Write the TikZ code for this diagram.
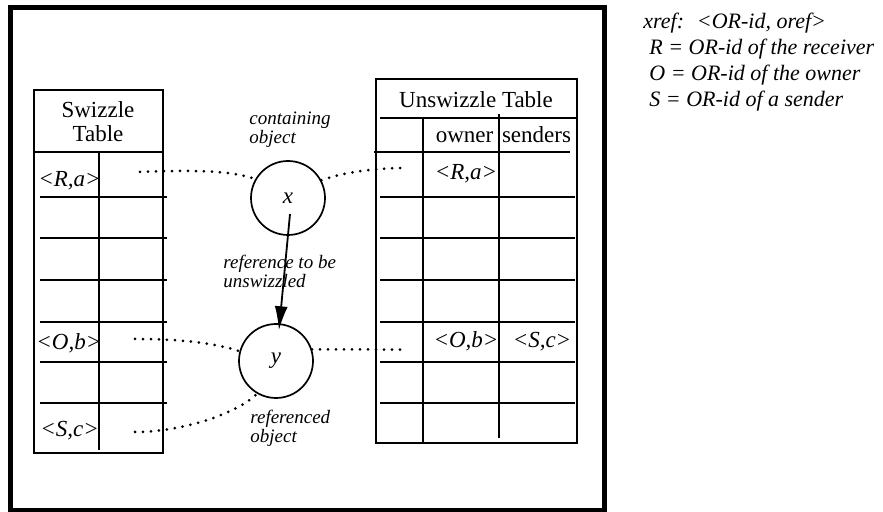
\documentclass[tikz,border=0pt]{standalone}
\usepackage{fontspec}
\setmainfont{Liberation Serif}
\usetikzlibrary{arrows.meta}
\tikzset{
  tbl/.style={line width=0.8pt},
  frame/.style={line width=2.3pt},
  obj/.style={circle, draw, line width=0.85pt, minimum size=37pt, inner sep=0pt, font=\fontsize{11.5}{12}\selectfont\itshape},
  ref/.style={line width=1.5pt, dash pattern=on 0pt off 4pt, line cap=round},
  ptr/.style={-{Latex[length=12pt, width=6.5pt]}, line width=0.9pt},
  cell/.style={font=\fontsize{11.5}{12}\selectfont\itshape, inner sep=0pt},
  head/.style={font=\fontsize{11.5}{12}\selectfont, inner sep=0pt, align=center},
  lbl/.style={font=\fontsize{9.5}{9.5}\selectfont\itshape, inner sep=0pt, align=left, anchor=north west},
  note/.style={font=\fontsize{11}{13}\selectfont\itshape, inner sep=0pt, anchor=base west},
}

\begin{document}
\begin{tikzpicture}[x=0.5pt, y=-0.5pt]
  \useasboundingbox (0,0) rectangle (883,512);
  % outer frame
  \draw[frame] (10.5,7.5) rectangle (604.5,510);
  % swizzle table
  \draw[tbl] (34,90) rectangle (163,453);
  \draw[tbl] (34,152) -- (163,152);
  \foreach \r in {197,238,280,322,362,403}
    \draw[tbl] (40,\r) -- (167,\r);
  \draw[tbl] (99,152) -- (99,450);
  \node[head] (swz) at (98,122) {Swizzle\\Table};
  \node[cell, anchor=base west] (sRa) at (38,187) {<R,a>};
  \node[cell, anchor=base west] (sOb) at (36,350) {<O,b>};
  \node[cell, anchor=base west] (sSc) at (40,437) {<S,c>};
  % unswizzle table
  \draw[tbl] (376,79) rectangle (577,443);
  \draw[tbl] (380,118) -- (577,118);
  \draw[tbl] (374,152) -- (570,152);
  \foreach \r in {197,238,280,322,362,403}
    \draw[tbl] (380,\r) -- (575,\r);
  \draw[tbl] (423,118) -- (423,443);
  \draw[tbl] (499,114) -- (499,438);
  \node[head, anchor=base] (uswz) at (476,108) {Unswizzle Table};
  \node[head, anchor=base] (own) at (464.5,143) {owner};
  \node[head, anchor=base] (snd) at (536.5,143) {senders};
  \node[cell, anchor=base] (uRa) at (466,180) {<R,a>};
  \node[cell, anchor=base] (uOb) at (466,348) {<O,b>};
  \node[cell, anchor=base] (uSc) at (542,348) {<S,c>};
  % objects
  \node[obj] (x) at (288,198) {x};
  \node[obj] (y) at (276,361) {y};
  \node[lbl] (cont) at (249,112) {containing\\object};
  \node[lbl] (tobe) at (223,255) {reference to be\\unswizzled};
  \node[lbl] (refd) at (250,410) {referenced\\object};
  % dotted links
  \coordinate (sR) at (140,172);
  \coordinate (sO) at (135,339);
  \coordinate (sS) at (135,432);
  \coordinate (uR) at (408,168);
  \coordinate (uO) at (404,349.6);
  \draw[ref] (sR) .. controls (190,170) and (230,170) .. (x.150);
  \draw[ref] (x.28) .. controls (345,172) and (375,168) .. (uR);
  \draw[ref] (sO) .. controls (180,339) and (215,343) .. (y.165);
  \draw[ref] (y.18) -- (uO);
  \draw[ref] (sS) .. controls (180,432) and (235,415) .. (y.240);
  % reference arrow
  \coordinate (xp) at (290,214);
  \draw[ptr, shorten >=-3.5pt] (xp) -- (y);
  % legend
  \node[note] (xr) at (643,29) {xref:~ <OR-id, oref>};
  \node[note] (nR) at (649,55) {R = OR-id of the receiver};
  \node[note] (nO) at (649,81) {O = OR-id of the owner};
  \node[note] (nS) at (649,107) {S = OR-id of a sender};
\end{tikzpicture}
\end{document}
